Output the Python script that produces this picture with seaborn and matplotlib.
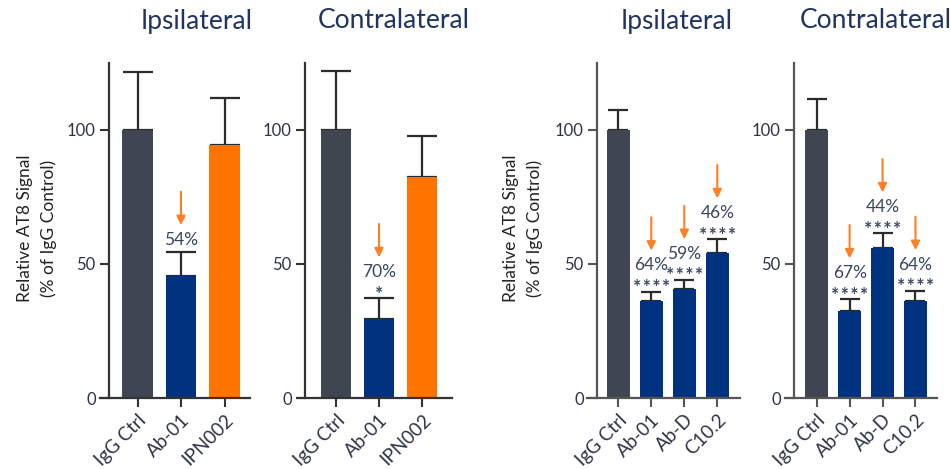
import matplotlib
matplotlib.use("Agg")
import matplotlib.pyplot as plt
from matplotlib.transforms import offset_copy
import seaborn as sns
import numpy as np

sns.set_style("white")
plt.rcParams["font.family"] = ["Lato", "DejaVu Sans"]

# ---- data -------------------------------------------------------------
cats_a = ["IgG Ctrl", "Ab-01", "IPN002"]
ipsi_a = [100, 45.5, 94.4]
ipsi_a_err = [21.5, 8.9, 17.6]
contra_a = [100, 29.5, 82.6]
contra_a_err = [22.0, 7.7, 15.2]
pct_ipsi_a = ["", "54%", ""]
sig_ipsi_a = ["", "", ""]
pct_contra_a = ["", "70%", ""]
sig_contra_a = ["", "*", ""]

cats_b = ["IgG Ctrl", "Ab-01", "Ab-D", "C10.2"]
ipsi_b = [100, 36.3, 40.6, 54.2]
ipsi_b_err = [7.5, 3.4, 3.4, 5.0]
contra_b = [100, 32.6, 56.1, 36.3]
contra_b_err = [11.6, 4.2, 5.3, 3.6]
pct_ipsi_b = ["", "64%", "59%", "46%"]
sig_ipsi_b = ["", "****", "****", "****"]
pct_contra_b = ["", "67%", "44%", "64%"]
sig_contra_b = ["", "****", "****", "****"]

yticks = [0, 50, 100]
ylabel = "Relative AT8 Signal\n(% of IgG Control)"

# ---- styling ----------------------------------------------------------
C_CTRL = "#3F4651"
C_BLUE = "#00337F"
C_ORANGE = "#FF7300"
C_ARROW = "#FF7F24"
C_TITLE = "#1F3461"
C_TEXT = "#2E3444"
C_PCT = "#3A4560"

W, H = 951, 469
fig = plt.figure(figsize=(W / 100, H / 100), dpi=100)
fig.patch.set_facecolor("white")

Y0, Y_TOP = 398, 63  # pixel rows of the zero line and the axis top


def spaced(s):
    # open up the star string a little so the asterisks read separately
    return "\u200a".join(s)


def panel(x_left, x_right, centre0, spacing, spine_px, cats, vals, errs,
          colors, pcts, sigs, title, title_x, spine_color, cap, show_ylabel,
          ylabel_x):
    ax = fig.add_axes([x_left / W, (H - Y0) / H, (x_right - x_left) / W,
                       (Y0 - Y_TOP) / H])
    sns.barplot(x=cats, y=vals, hue=cats, palette=colors, width=0.7,
                saturation=1, errorbar=None, legend=False, ax=ax,
                linewidth=0, edgecolor="none", zorder=2)
    n = len(cats)
    xs = np.arange(n)
    ax.errorbar(xs, vals, yerr=[np.zeros(n), errs], fmt="none",
                ecolor="#2b2b2b", elinewidth=1.6, capsize=cap, capthick=1.6,
                zorder=1)
    ax.set_xlim((x_left - centre0) / spacing, (x_right - centre0) / spacing)
    ax.set_ylim(0, 125)
    for s in ("top", "right"):
        ax.spines[s].set_visible(False)
    ax.spines["left"].set_position(("data", (spine_px - centre0) / spacing))
    for s in ("left", "bottom"):
        ax.spines[s].set_color(spine_color)
        ax.spines[s].set_linewidth(1.6)
    ax.set_yticks(yticks)
    ax.set_yticklabels([str(t) for t in yticks])
    ax.set_xticks(xs)
    ax.set_xticklabels(cats, rotation=45, ha="right", rotation_mode="anchor")
    ax.tick_params(axis="both", direction="out", length=6.5, width=1.5,
                   color=spine_color, labelcolor=C_TEXT, pad=3,
                   left=True, bottom=True)
    ax.tick_params(axis="x", labelsize=13.5)
    ax.tick_params(axis="y", labelsize=12)
    ax.set_xlabel("")
    ax.set_ylabel("")

    # percentage reductions, significance stars and arrows
    for i in range(n):
        if not pcts[i]:
            continue
        top = vals[i] + errs[i]
        has_sig = bool(sigs[i])
        if has_sig:
            ax.annotate(spaced(sigs[i]), (i, top), xytext=(0, 3.0),
                        textcoords="offset points", ha="center", va="center",
                        fontsize=14, fontweight="bold", color=C_PCT)
        pct_off = 19 if has_sig else 8.5
        ax.annotate(pcts[i], (i, top), xytext=(0, pct_off),
                    textcoords="offset points", ha="center", va="center",
                    fontsize=12.5, color=C_PCT)
        tip = 29.5 if has_sig else 19.5
        arrow_tip = offset_copy(ax.transData, fig=fig, x=0, y=tip,
                                units="points")
        arrow_start = offset_copy(ax.transData, fig=fig, x=0, y=tip + 24,
                                  units="points")
        ax.annotate("", xy=(i, top), xycoords=arrow_tip,
                    xytext=(i, top), textcoords=arrow_start,
                    arrowprops=dict(arrowstyle="-|>", color=C_ARROW, lw=1.5,
                                    mutation_scale=13, shrinkA=0, shrinkB=0))

    fig.text(title_x / W, 1 - 21 / H, title, ha="center", va="center",
             fontsize=19, color=C_TITLE)
    if show_ylabel:
        fig.text(ylabel_x / W, 1 - 228 / H, ylabel, rotation=90,
                 ha="center", va="center", fontsize=12.5, color="#222222",
                 linespacing=1.55)
    return ax


colors_a = [C_CTRL, C_BLUE, C_ORANGE]
colors_b = [C_CTRL, C_BLUE, C_BLUE, C_BLUE]

panel(100, 250, 137.5, 43.5, 109, cats_a, ipsi_a, ipsi_a_err, colors_a,
      pct_ipsi_a, sig_ipsi_a, "Ipsilateral", 197, "#333333", 11, True, 37)
panel(298, 452, 336, 43.0, 305, cats_a, contra_a, contra_a_err, colors_a,
      pct_contra_a, sig_contra_a, "Contralateral", 394, "#333333", 11, False, 0)
panel(587, 740, 618.3, 33.0, 597, cats_b, ipsi_b, ipsi_b_err, colors_b,
      pct_ipsi_b, sig_ipsi_b, "Ipsilateral", 677, "#555555", 7.5, True, 523)
panel(785, 937, 816.7, 32.93, 794, cats_b, contra_b, contra_b_err, colors_b,
      pct_contra_b, sig_contra_b, "Contralateral", 876, "#555555", 7.5, False, 0)

fig.savefig("out.png", dpi=100, facecolor="white")
